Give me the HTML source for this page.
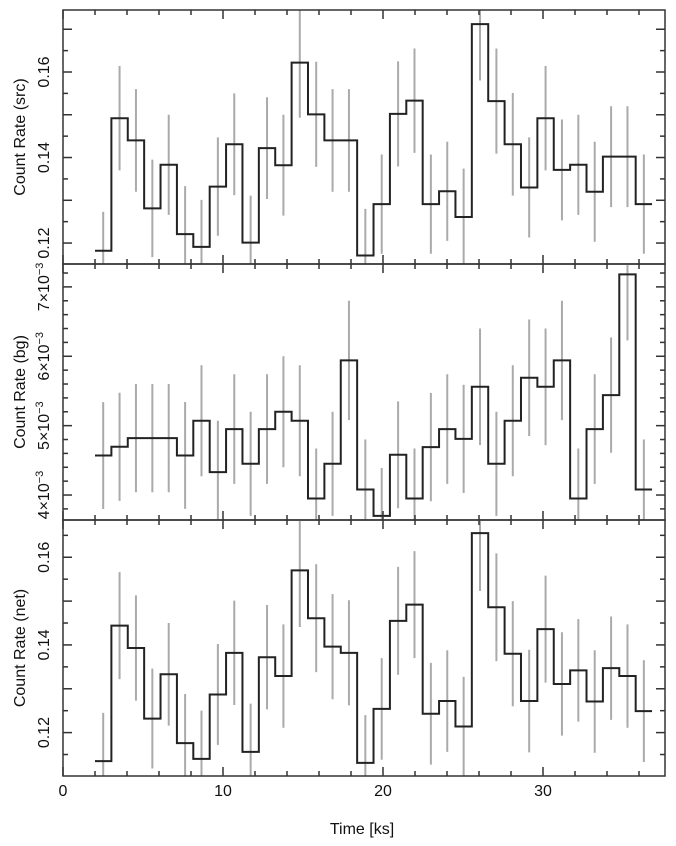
<!DOCTYPE html>
<html><head><meta charset="utf-8"><style>
html,body{margin:0;padding:0;background:#fff;}
svg{display:block;font-family:"Liberation Sans",sans-serif;}
</style></head><body>
<svg id="chart" width="676" height="846" viewBox="0 0 676 846" xmlns="http://www.w3.org/2000/svg"></svg>
<script>
const binStart = 2.0;
const binWidth = 1.024;
const xTicks = [0, 10, 20, 30];
const srcRate = [0.1182,0.1492,0.1440,0.1281,0.1383,0.1221,0.1191,0.1332,0.1431,0.1201,0.1422,0.1382,0.1622,0.1501,0.1440,0.1440,0.1171,0.1291,0.1502,0.1533,0.1291,0.1321,0.1261,0.1712,0.1532,0.1431,0.1330,0.1492,0.1371,0.1383,0.1320,0.1402,0.1402,0.1291];
const srcErr = [0.0091,0.0122,0.0120,0.0114,0.0117,0.0112,0.0110,0.0115,0.0119,0.0110,0.0119,0.0118,0.0129,0.0123,0.0120,0.0120,0.0109,0.0116,0.0123,0.0122,0.0116,0.0116,0.0113,0.0132,0.0123,0.0120,0.0117,0.0122,0.0118,0.0117,0.0117,0.0118,0.0118,0.0116];
const bgRate = [0.004569,0.004695,0.00482,0.00482,0.00482,0.00457,0.00507,0.00433,0.00495,0.00445,0.00495,0.0052,0.00507,0.00395,0.00445,0.00594,0.00408,0.0037,0.00458,0.00395,0.00469,0.00495,0.00481,0.00556,0.00445,0.00507,0.00569,0.00556,0.00594,0.00395,0.00495,0.00544,0.00718,0.00408];
const bgErr = [0.00077,0.00078,0.00078,0.00078,0.00078,0.00077,0.0008,0.00074,0.00079,0.00075,0.00079,0.0008,0.0008,0.00072,0.00075,0.00086,0.00072,0.00069,0.00077,0.00072,0.00078,0.00079,0.00078,0.00084,0.00075,0.0008,0.00084,0.00084,0.00086,0.00072,0.00079,0.00083,0.00095,0.00072];
const netRate = [0.1135,0.1444,0.1393,0.1232,0.1333,0.1176,0.1140,0.1287,0.1382,0.1156,0.1372,0.1329,0.1570,0.1461,0.1396,0.1382,0.1131,0.1254,0.1455,0.1492,0.1243,0.1272,0.1214,0.1655,0.1486,0.1380,0.1272,0.1436,0.1311,0.1342,0.1271,0.1347,0.1329,0.1249];
const netErr = [0.0110,0.0122,0.0120,0.0114,0.0117,0.0112,0.0110,0.0115,0.0119,0.0110,0.0119,0.0118,0.0129,0.0123,0.0120,0.0120,0.0109,0.0116,0.0123,0.0122,0.0116,0.0116,0.0113,0.0132,0.0123,0.0120,0.0117,0.0122,0.0118,0.0117,0.0117,0.0118,0.0118,0.0116];
const srcTicks = ["0.12","0.14","0.16"];
const bgTicks = ["4","5","6","7"];
const netTicks = ["0.12","0.14","0.16"];

const NS = "http://www.w3.org/2000/svg";
const svg = document.getElementById("chart");
const X0 = 63, X1 = 665, XMIN = 0, XMAX = (665-63)/16;
function xs(t){ return X0 + (t - XMIN) / (XMAX - XMIN) * (X1 - X0); }
function mk(tag, attrs, parent){ const e = document.createElementNS(NS, tag); for (const k in attrs) e.setAttribute(k, attrs[k]); (parent||svg).appendChild(e); return e; }

const panels = [
  {key:"src", top:10, bot:264, ymin:0.1151, ymax:0.1745, rates:srcRate, errs:srcErr, major:0.01, minor:0.005, labels:srcTicks, title:"Count Rate (src)", exp:false},
  {key:"bg", top:264, bot:520, ymin:0.00364, ymax:0.00733, rates:bgRate, errs:bgErr, major:0.001, minor:0.0002, labels:bgTicks, title:"Count Rate (bg)", exp:true},
  {key:"net", top:520, bot:776, ymin:0.1101, ymax:0.1685, rates:netRate, errs:netErr, major:0.01, minor:0.005, labels:netTicks, title:"Count Rate (net)", exp:false}
];

panels.forEach((p, pi) => {
  const ys = v => p.bot - (v - p.ymin) / (p.ymax - p.ymin) * (p.bot - p.top);
  const g = mk("g", {});
  
  
  const cp = mk("clipPath", {id:"clip"+pi}, g);
  mk("rect", {x:X0, y:p.top, width:X1-X0, height:p.bot-p.top}, cp);
  // error bars
  const eg = mk("g", {"clip-path":"url(#clip"+pi+")"}, g);
  
  
  p.rates.forEach((v, i) => {
    const xc = xs(binStart + (i + 0.5) * binWidth);
    const l = mk("line", {x1:xc, x2:xc, y1:ys(v - p.errs[i]), y2:ys(v + p.errs[i]), stroke:"#aaaaaa", "stroke-width":2}, eg);
    
    
  });
  // step line
  let d = "";
  p.rates.forEach((v, i) => {
    const xa = xs(binStart + i * binWidth), xb = xs(binStart + (i + 1) * binWidth);
    d += (i === 0 ? "M" : "L") + xa.toFixed(2) + "," + ys(v).toFixed(2) + "L" + xb.toFixed(2) + "," + ys(v).toFixed(2);
  });
  const path = mk("path", {d:d, fill:"none", stroke:"#222", "stroke-width":2, "clip-path":"url(#clip"+pi+")"}, g);
  
  
  // frame
  const fr = mk("rect", {x:X0, y:p.top, width:X1-X0, height:p.bot-p.top, fill:"none", stroke:"#333", "stroke-width":1.5}, g);
  
  
  // x ticks
  for (let t = 0; t <= XMAX; t += 2) {
    const x = xs(t), len = (t % 10 === 0) ? 9 : 5;
    mk("line", {x1:x, x2:x, y1:p.bot, y2:p.bot - len, stroke:"#333", "stroke-width":1.5}, g);
    mk("line", {x1:x, x2:x, y1:p.top, y2:p.top + len, stroke:"#333", "stroke-width":1.5}, g);
  }
  // y ticks
  const start = Math.ceil(p.ymin / p.minor - 1e-6);
  for (let k = start; k * p.minor <= p.ymax; k++) {
    const v = k * p.minor;
    const isMaj = Math.abs(v / p.major - Math.round(v / p.major)) < 1e-6;
    const y = ys(v), len = isMaj ? 9 : 5;
    mk("line", {x1:X0, x2:X0 + len, y1:y, y2:y, stroke:"#333", "stroke-width":1.5}, g);
    mk("line", {x1:X1, x2:X1 - len, y1:y, y2:y, stroke:"#333", "stroke-width":1.5}, g);
  }
  // y tick labels
  p.labels.forEach(lbl => {
    const v = p.exp ? parseFloat(lbl) * 0.001 : parseFloat(lbl);
    const y = ys(v);
    const tx = mk("text", {x:0, y:0, transform:"translate(49," + y + ") rotate(-90)", "text-anchor":"middle", "font-size":16, fill:"#111"}, g);
    
    
    if (p.exp) {
      tx.appendChild(document.createTextNode(lbl + "×10"));
      const s = mk("tspan", {dy:-6, "font-size":11}, tx);
      s.textContent = "−3";
    } else tx.textContent = lbl;
  });
  const yt = mk("text", {x:0, y:0, transform:"translate(25," + ((p.top + p.bot) / 2) + ") rotate(-90)", "text-anchor":"middle", "font-size":16, fill:"#111"}, g);
  
  
  yt.textContent = p.title;
});

xTicks.forEach(t => {
  const tx = mk("text", {x:xs(t), y:796, "text-anchor":"middle", "font-size":16, fill:"#111"});
  
  
  tx.textContent = String(t);
});
const xt = mk("text", {x:362, y:834, "text-anchor":"middle", "font-size":16, fill:"#111"});


xt.textContent = "Time [ks]";
</script>
</body></html>
